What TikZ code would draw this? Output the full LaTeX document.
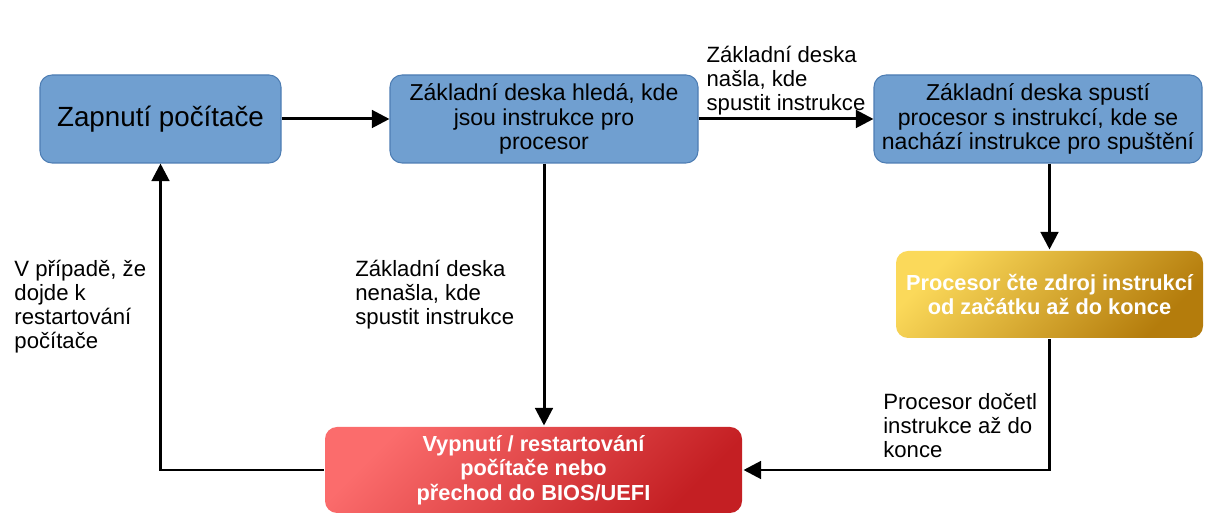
\documentclass[tikz,border=0pt]{standalone}
\usepackage{fontspec}
\setmainfont{Liberation Sans}
\usetikzlibrary{arrows.meta}

\definecolor{boxblue}{HTML}{709FD0}
\definecolor{lineblue}{HTML}{4D7DB3}
\definecolor{goldlight}{HTML}{FBD95A}
\definecolor{golddark}{HTML}{B47C0C}
\definecolor{redlight}{HTML}{FB6C6C}
\definecolor{reddark}{HTML}{C41F23}

\tikzset{
  stepblue/.style={rectangle, rounded corners=0.24cm, fill=boxblue, draw=lineblue,
    line width=0.6pt, inner xsep=2pt, align=center, font=\fontsize{13.1}{14}\selectfont},
  stepgold/.style={rectangle, rounded corners=0.24cm, top color=goldlight,
    bottom color=golddark, shading angle=45, inner xsep=2pt, align=center, text=white,
    font=\fontsize{12.4}{14}\selectfont\bfseries},
  stepred/.style={rectangle, rounded corners=0.24cm, top color=redlight,
    bottom color=reddark, shading angle=45, inner xsep=2pt, align=center, text=white,
    font=\fontsize{12.4}{14}\selectfont\bfseries},
  note/.style={align=left, font=\fontsize{12.6}{13.7}\selectfont},
}

\begin{document}
\begin{tikzpicture}[line width=1.7pt, >={Triangle[length=10pt,width=10pt]}]
    \useasboundingbox (0,0) rectangle (24.14,10.46);
    \node[stepblue, minimum width=4.82cm, minimum height=1.76cm, font=\fontsize{15.8}{18}\selectfont]
      (start) at (3.21,8.08)
      {Zapnutí počítače};
    \node[stepblue, minimum width=6.16cm, minimum height=1.76cm]
      (search) at (10.88,8.08)
      {Základní deska hledá, kde\\jsou instrukce pro\\procesor};
    \node[stepblue, minimum width=6.56cm, minimum height=1.76cm]
      (launch) at (20.76,8.08)
      {Základní deska spustí\\procesor s instrukcí, kde se\\nachází instrukce pro spuštění};
    \node[stepgold, minimum width=6.14cm, minimum height=1.74cm]
      (read) at (20.99,4.57)
      {Procesor čte zdroj instrukcí\\od začátku až do konce};
    \node[stepred, minimum width=8.34cm, minimum height=1.72cm]
      (reboot) at (10.67,1.06)
      {Vypnutí / restartování\\počítače nebo\\přechod do BIOS/UEFI};
    \draw
      (start) edge[->] (search)
      (search) edge[->] node[above, note, yshift=-2pt] {Základní deska\\našla, kde\\spustit instrukce} (launch)
      (read.north |- launch.south) edge[->] (read.north)
      (search.south) edge[->] node[left, note, xshift=-0.45cm] {Základní deska\\nenašla, kde\\spustit instrukce} (search.south |- reboot.north)
      ;
    \draw[->] (read.south) |- node[pos=0.33, left, note, xshift=-0.1cm] {Procesor dočetl\\instrukce až do\\konce} (reboot.east);
    \draw[->] (reboot.west) -| node[pos=0.767, left, note, xshift=-0.14cm] {V případě, že\\dojde k\\restartování\\počítače} (start.south);
  \end{tikzpicture}
\end{document}
